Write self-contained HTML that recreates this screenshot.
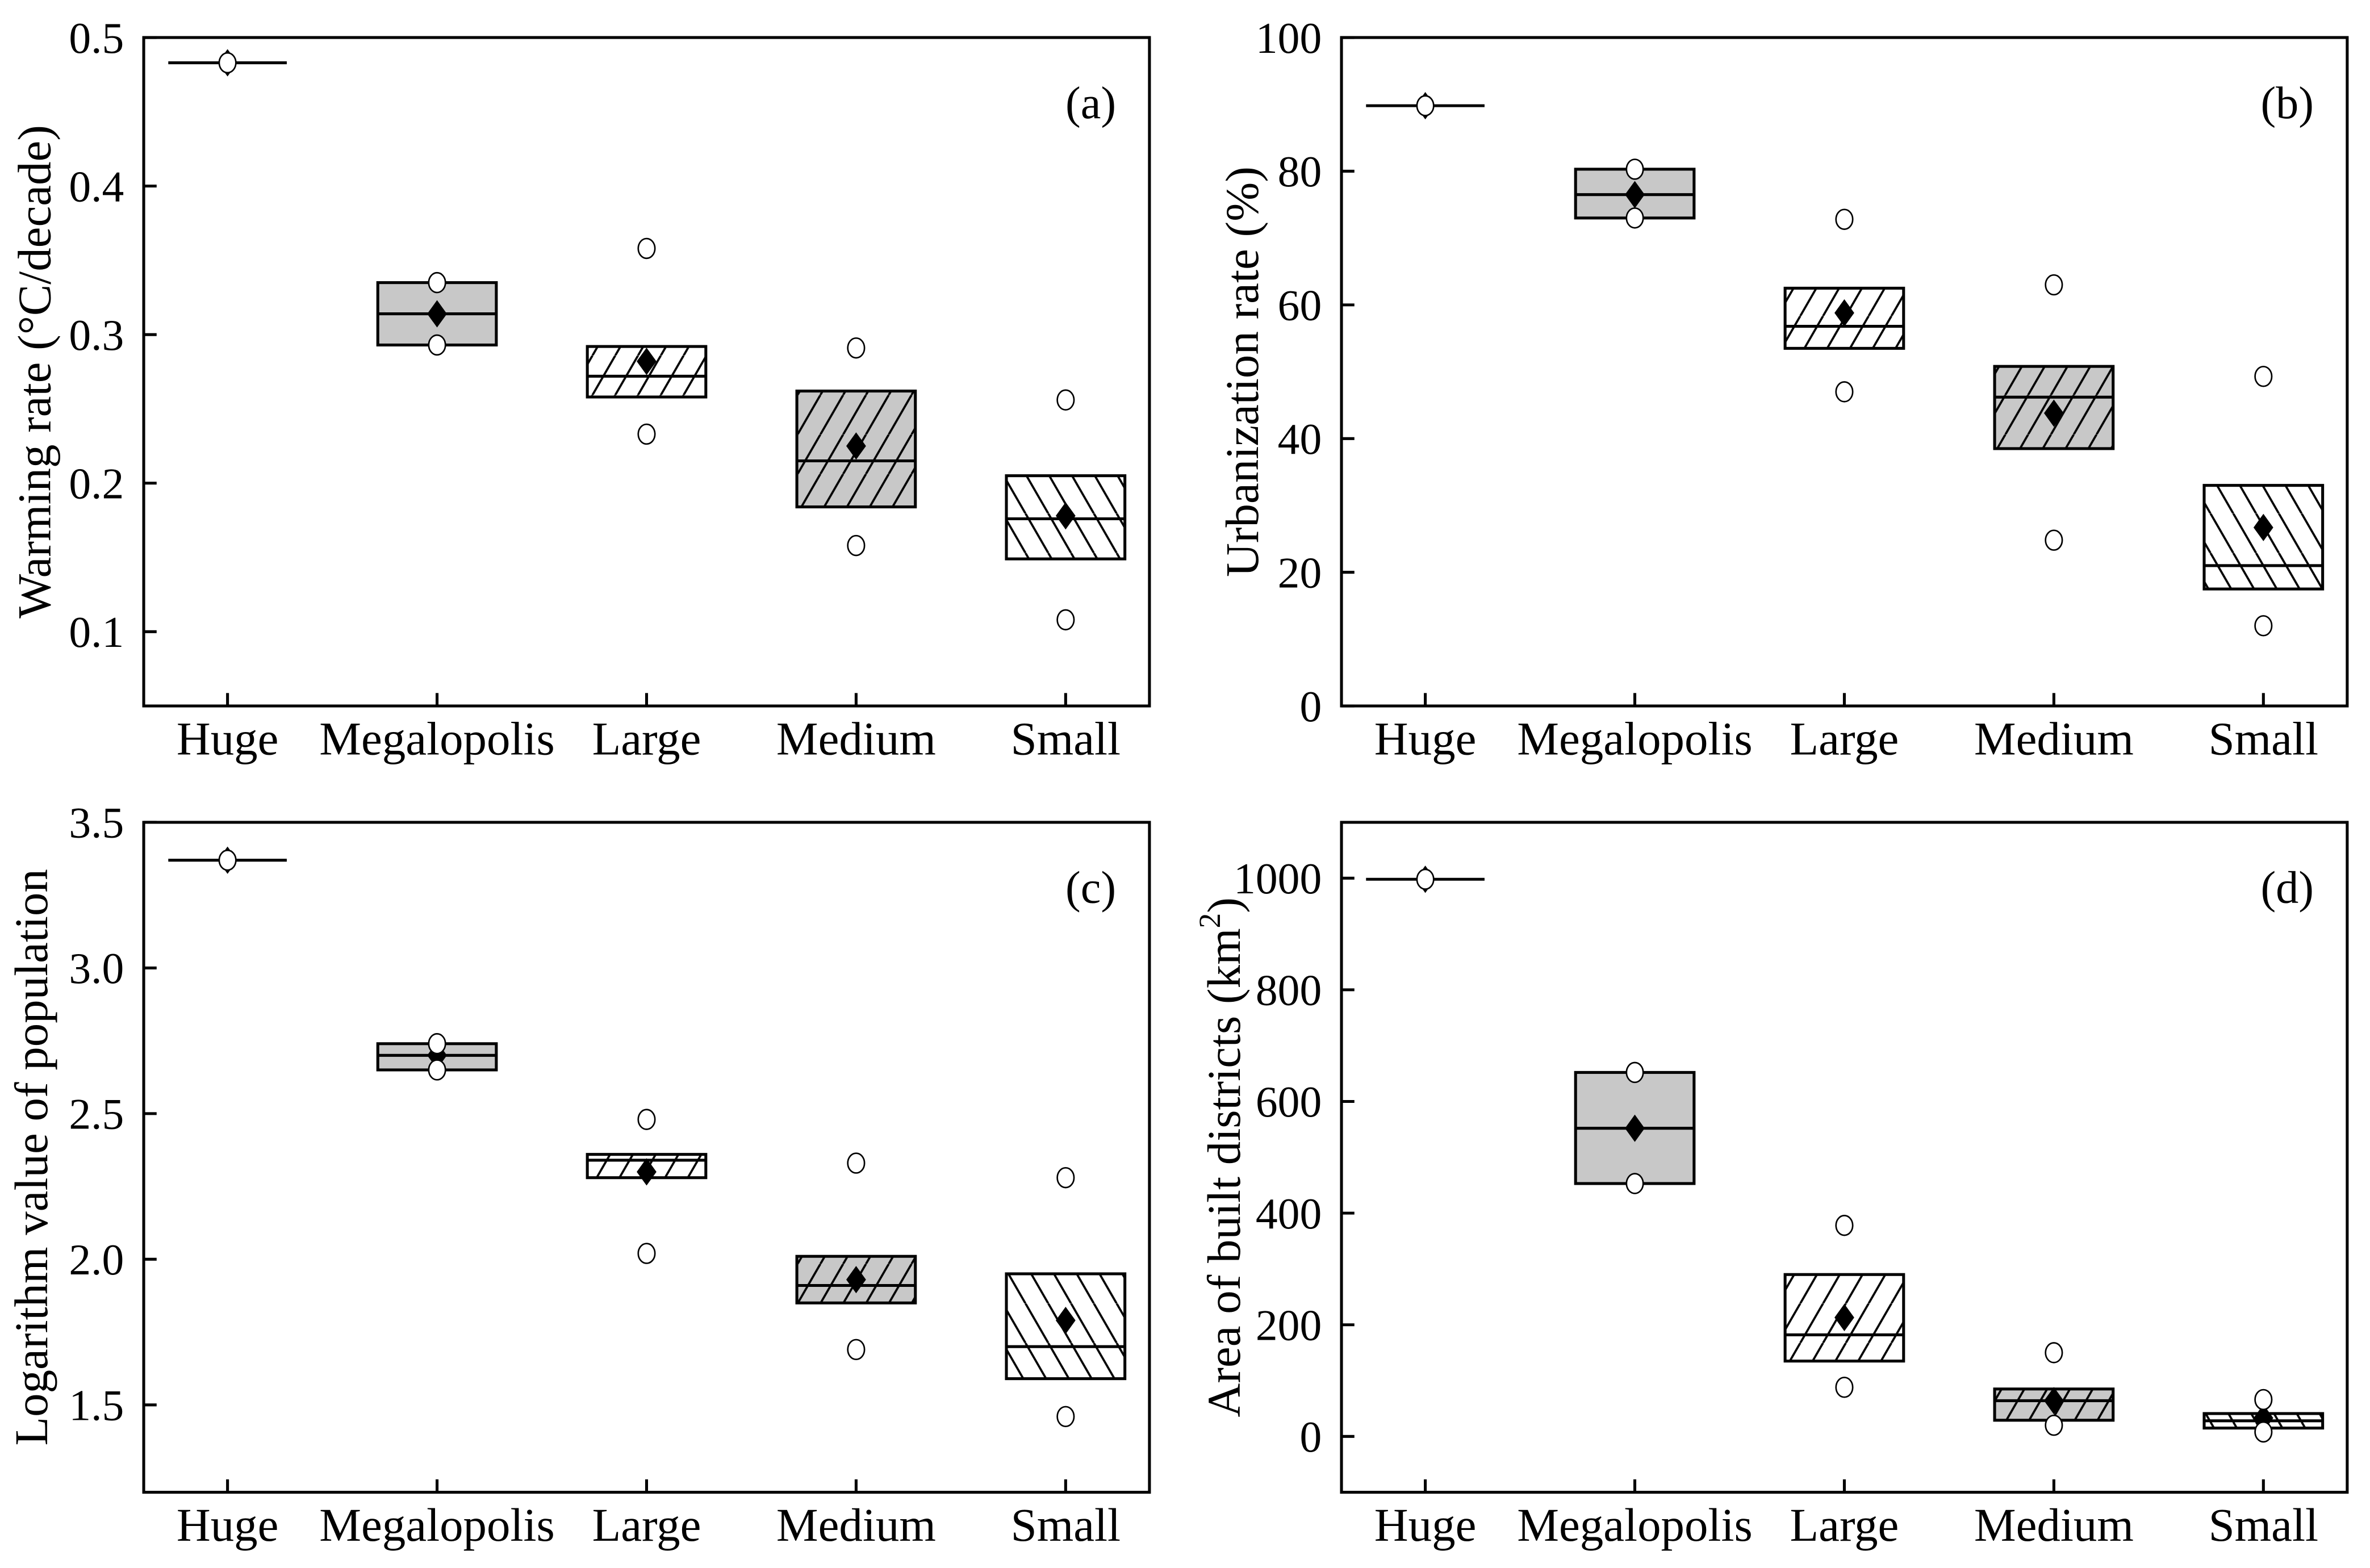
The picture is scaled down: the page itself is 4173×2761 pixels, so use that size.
<!DOCTYPE html>
<html><head><meta charset="utf-8"><style>
html,body{margin:0;padding:0;background:#fff;}
svg{display:block;}
text{font-family:"Liberation Serif","Times New Roman",serif;fill:#000;}
</style></head><body>
<svg id="chart" width="4173" height="2761" viewBox="0 0 1560 1032.15" preserveAspectRatio="none" xmlns="http://www.w3.org/2000/svg">
<defs>
<pattern id="fwd" patternUnits="userSpaceOnUse" width="15" height="26">
<line x1="-15" y1="26" x2="0" y2="0" stroke="#000" stroke-width="1.4"/>
<line x1="0" y1="26" x2="15" y2="0" stroke="#000" stroke-width="1.4"/>
<line x1="15" y1="26" x2="30" y2="0" stroke="#000" stroke-width="1.4"/>
</pattern>
<pattern id="bwd" patternUnits="userSpaceOnUse" width="15" height="26">
<line x1="-15" y1="0" x2="0" y2="26" stroke="#000" stroke-width="1.4"/>
<line x1="0" y1="0" x2="15" y2="26" stroke="#000" stroke-width="1.4"/>
<line x1="15" y1="0" x2="30" y2="26" stroke="#000" stroke-width="1.4"/>
</pattern>
</defs>
</svg>
<script>
const categories = ["Huge","Megalopolis","Large","Medium","Small"];
// panel (a)
const aQ1 = [0.483,0.293,0.258,0.184,0.149];
const aQ3 = [0.483,0.335,0.292,0.262,0.205];
const aMed = [0.483,0.314,0.272,0.215,0.176];
const aMean = [0.483,0.314,0.282,0.225,0.178];
const aHi = [0.483,0.335,0.358,0.291,0.256];
const aLo = [0.483,0.293,0.233,0.158,0.108];
const aTicks = [0.1,0.2,0.3,0.4,0.5];
const aTickLabels = ["0.1","0.2","0.3","0.4","0.5"];
// panel (b)
const bQ1 = [89.8,73,53.5,38.5,17.5];
const bQ3 = [89.8,80.3,62.5,50.8,33];
const bMed = [89.8,76.5,56.8,46.2,21];
const bMean = [89.8,76.5,58.8,43.8,26.7];
const bHi = [89.8,80.3,72.8,63,49.3];
const bLo = [89.8,73,47,24.8,12];
const bTicks = [0,20,40,60,80,100];
const bTickLabels = ["0","20","40","60","80","100"];
// panel (c)
const cQ1 = [3.37,2.65,2.28,1.85,1.59];
const cQ3 = [3.37,2.74,2.36,2.01,1.95];
const cMed = [3.37,2.70,2.34,1.91,1.70];
const cMean = [3.37,2.70,2.30,1.93,1.79];
const cHi = [3.37,2.74,2.48,2.33,2.28];
const cLo = [3.37,2.65,2.02,1.69,1.46];
const cTicks = [1.5,2.0,2.5,3.0,3.5];
const cTickLabels = ["1.5","2.0","2.5","3.0","3.5"];
// panel (d)
const dQ1 = [998,453,135,29,15];
const dQ3 = [998,652,290,85,41];
const dMed = [998,552,182,64,28];
const dMean = [998,552,213,64,33];
const dHi = [998,652,378,150,66];
const dLo = [998,453,88,20,8];
const dTicks = [0,200,400,600,800,1000];
const dTickLabels = ["0","200","400","600","800","1000"];

const fills = ["none","#c8c8c8","url(#fwd)","url(#fwd)","url(#bwd)"];
const bgs = ["none","#c8c8c8","#fff","#c8c8c8","#fff"];
const svg = document.getElementById('chart');
const NS = "http://www.w3.org/2000/svg";
function mk(tag, attrs, parent){const e=document.createElementNS(NS,tag);for(const k in attrs)e.setAttribute(k,attrs[k]);(parent||svg).appendChild(e);return e;}

function panel(o){
  const g = mk('g',{});
  
  
  const L=o.left,R=o.left+662,T=o.top,B=o.top+o.h;
  const xs = i => L + (i+1-0.6)/4.8*(R-L);
  const ys = v => B - (v-o.ymin)/(o.ymax-o.ymin)*(B-T);
  const hw = 39;
  for(let i=0;i<categories.length;i++){
    const x=xs(i);
    if(i===0){
      const ln=mk('line',{x1:x-hw,x2:x+hw,y1:ys(o.med[i]),y2:ys(o.med[i]),stroke:'#000','stroke-width':1.9},g);
      
      
    } else {
      const y1=ys(o.q3[i]),y2=ys(o.q1[i]);
      mk('rect',{x:x-hw,y:y1,width:2*hw,height:y2-y1,fill:bgs[i]},g);
      const bx=mk('rect',{x:x-hw,y:y1,width:2*hw,height:y2-y1,fill:fills[i],stroke:'#000','stroke-width':1.9},g);
      
      
      const m=mk('line',{x1:x-hw,x2:x+hw,y1:ys(o.med[i]),y2:ys(o.med[i]),stroke:'#000','stroke-width':1.9},g);
      
      
    }
    const my=ys(o.mean[i]);
    const d=mk('polygon',{points:`${x},${my-9} ${x+6.5},${my} ${x},${my+9} ${x-6.5},${my}`,fill:'#000'},g);
    
    
    [o.hi[i],o.lo[i]].forEach((v,k)=>{
      if(i===0&&k===1)return;
      const c=mk('ellipse',{cx:x,cy:ys(v),rx:5.5,ry:6.5,fill:'#fff',stroke:'#000','stroke-width':1},g);
      
      
    });
    const tk=mk('line',{x1:x,x2:x,y1:B,y2:B-8.5,stroke:'#000','stroke-width':1.9},g);
    
    
    const t=mk('text',{x:x,y:B+32,'text-anchor':'middle','font-size':31},g);
    t.textContent=categories[i];
    
    
  }
  o.ticks.forEach((v,k)=>{
    const y=ys(v);
    const tk=mk('line',{x1:L,x2:L+8.5,y1:y,y2:y,stroke:'#000','stroke-width':1.9},g);
    
    
    const t=mk('text',{x:L-13,y:y+10,'text-anchor':'end','font-size':29},g);
    t.textContent=o.labels[k];
    
    
  });
  const fr=mk('rect',{x:L,y:T,width:R-L,height:B-T,fill:'none',stroke:'#000','stroke-width':1.9},g);
  
  
  const pl=mk('text',{x:R-22,y:T+53,'text-anchor':'end','font-size':30},g);
  pl.textContent=o.tag;
  
  
  const yt=mk('text',{x:0,y:0,'text-anchor':'middle','font-size':31,transform:`translate(${o.tx},${(T+B)/2}) rotate(-90)`},g);
  yt.innerHTML=o.title;
  
  
}
panel({name:'panel-a-warming-rate',left:94.6,top:24.7,h:440,ymin:0.05,ymax:0.5,q1:aQ1,q3:aQ3,med:aMed,mean:aMean,hi:aHi,lo:aLo,ticks:aTicks,labels:aTickLabels,tag:'(a)',tx:33,title:'Warming rate (°C/decade)'});
panel({name:'panel-b-urbanization-rate',left:883,top:24.7,h:440,ymin:0,ymax:100,q1:bQ1,q3:bQ3,med:bMed,mean:bMean,hi:bHi,lo:bLo,ticks:bTicks,labels:bTickLabels,tag:'(b)',tx:828,title:'Urbanization rate (%)'});
panel({name:'panel-c-log-population',left:94.6,top:541.3,h:441,ymin:1.2,ymax:3.5,q1:cQ1,q3:cQ3,med:cMed,mean:cMean,hi:cHi,lo:cLo,ticks:cTicks,labels:cTickLabels,tag:'(c)',tx:31,title:'Logarithm value of population'});
panel({name:'panel-d-built-area',left:883,top:541.3,h:441,ymin:-100,ymax:1100,q1:dQ1,q3:dQ3,med:dMed,mean:dMean,hi:dHi,lo:dLo,ticks:dTicks,labels:dTickLabels,tag:'(d)',tx:816,title:'Area of built districts (km<tspan font-size="20" dy="-13">2</tspan><tspan dy="13">)</tspan>'});
</script>
</body></html>
